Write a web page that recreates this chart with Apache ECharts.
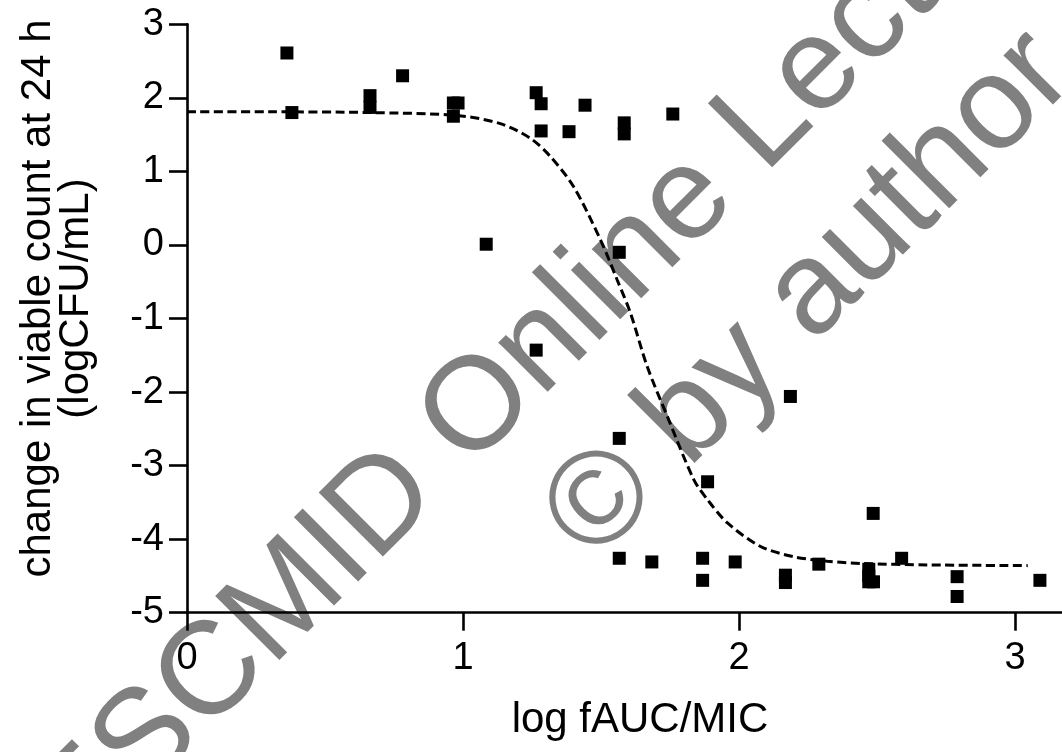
<!DOCTYPE html>
<html>
<head>
<meta charset="utf-8">
<script src="https://cdn.jsdelivr.net/npm/echarts@6/dist/echarts.min.js"></script>
<style>
  html, body { margin: 0; padding: 0; background: #fff; }
  #chart { width: 1062px; height: 752px; }
</style>
</head>
<body>
<div id="chart"></div>
<script>
// Scatter observations (log fAUC/MIC vs change in viable count)
const pointX = [0.362, 0.380, 0.663, 0.663, 0.781, 0.965, 0.982, 0.965, 1.084, 1.265,
                1.283, 1.283, 1.384, 1.442, 1.584, 1.584, 1.760, 1.566, 1.265, 2.186,
                1.566, 1.886, 2.486, 1.566, 1.684, 1.868, 1.868, 1.986, 2.168, 2.168,
                2.289, 2.470, 2.470, 2.470, 2.487, 2.589, 2.790, 2.790, 3.090];
const pointY = [2.61, 1.80, 2.03, 1.87, 2.30, 1.93, 1.93, 1.75, 0.01, 2.07,
                1.92, 1.55, 1.54, 1.90, 1.66, 1.51, 1.78, -0.10, -1.43, -2.06,
                -2.63, -3.22, -3.65, -4.26, -4.31, -4.26, -4.56, -4.31, -4.49, -4.59,
                -4.34, -4.41, -4.50, -4.58, -4.58, -4.26, -4.51, -4.78, -4.56];

// Fitted curve
const curveX = [0, 0.30, 0.664, 0.978, 1.135, 1.244, 1.317, 1.401, 1.498, 1.559,
                1.607, 1.667, 1.740, 1.836, 1.885, 1.958, 2.078, 2.199, 2.320, 2.441,
                2.683, 3.046];
const curveY = [1.81, 1.81, 1.80, 1.76, 1.65, 1.45, 1.20, 0.79, 0.07, -0.48,
                -0.93, -1.65, -2.33, -3.19, -3.46, -3.78, -4.10, -4.24, -4.30, -4.33,
                -4.35, -4.36];

const xTicks = [0, 1, 2, 3];
const yTicks = [-5, -4, -3, -2, -1, 0, 1, 2, 3];

const xName = 'log fAUC/MIC';
const yName = 'change in viable count at 24 h\n(logCFU/mL)';
const watermark1 = 'ESCMID Online Lecture';
const watermark2 = '© by author';

const FONT = '"Liberation Sans", Arial, Helvetica, sans-serif';

const chart = echarts.init(document.getElementById('chart'), null, { renderer: 'canvas' });

const option = {
  backgroundColor: '#ffffff',
  animation: false,
  grid: { left: 187, right: 0, top: 24.3, bottom: 139.3, containLabel: false, outerBoundsMode: 'none' },
  graphic: [
    {
      type: 'text', x: 552, y: 336, rotation: Math.PI / 4, z: -10,
      style: { text: watermark1, fontSize: 132, fontFamily: FONT, fill: '#808080', align: 'center', verticalAlign: 'middle' }
    },
    {
      type: 'text', x: 810, y: 296, rotation: Math.PI / 4, z: -10,
      style: { text: watermark2, fontSize: 132, fontFamily: FONT, fill: '#808080', align: 'center', verticalAlign: 'middle' }
    }
  ],
  xAxis: {
    type: 'value', min: 0, max: 3.17, interval: 1,
    name: xName, nameLocation: 'middle', nameGap: 87,
    nameTextStyle: { fontSize: 42, fontFamily: FONT, color: '#000', padding: [0, 0, 0, 31] },
    axisLine: { show: true, onZero: false, lineStyle: { color: '#000', width: 2.6 } },
    axisTick: { show: true, inside: false, length: 18, customValues: xTicks, lineStyle: { color: '#000', width: 2.6 } },
    axisLabel: { customValues: xTicks, fontSize: 38, fontFamily: FONT, color: '#000', margin: 27 },
    splitLine: { show: false }
  },
  yAxis: {
    type: 'value', min: -5, max: 3, interval: 1,
    name: yName, nameLocation: 'middle', nameGap: 92, nameRotate: 90,
    nameTextStyle: { fontSize: 42, fontFamily: FONT, color: '#000', lineHeight: 38, padding: [0, 0, 0, 40], align: 'center' },
    axisLine: { show: true, onZero: false, lineStyle: { color: '#000', width: 2.6 } },
    axisTick: { show: true, inside: false, length: 18, customValues: yTicks, lineStyle: { color: '#000', width: 2.6 } },
    axisLabel: { customValues: yTicks, fontSize: 38, fontFamily: FONT, color: '#000', margin: 23 },
    splitLine: { show: false }
  },
  series: [
    {
      type: 'line',
      data: curveX.map((x, i) => [x, curveY[i]]),
      smooth: 0.3,
      showSymbol: false,
      symbol: 'none',
      lineStyle: { color: '#000', width: 3, type: [9, 4.5], opacity: 1 },
      z: 3
    },
    {
      type: 'scatter',
      data: pointX.map((x, i) => [x, pointY[i]]),
      symbol: 'rect',
      symbolSize: 13,
      itemStyle: { color: '#000', opacity: 1 },
      z: 4
    }
  ]
};

chart.setOption(option);
</script>
</body>
</html>
